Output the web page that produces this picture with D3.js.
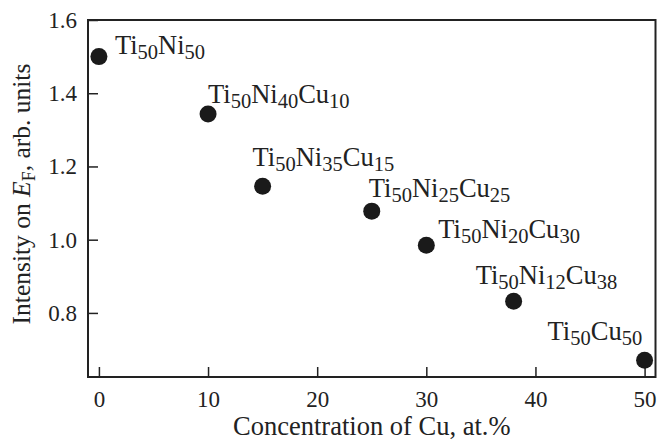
<!DOCTYPE html>
<html>
<head>
<meta charset="utf-8">
<script src="https://cdn.jsdelivr.net/npm/d3@7"></script>
<style>
  body { margin: 0; background: #fff; }
  svg text { font-family: "Liberation Serif", Tinos, serif; fill: #222; }
</style>
</head>
<body>
<svg id="chart" width="658" height="445"></svg>
<script>
// Data
const cu = [0, 10, 15, 25, 30, 38, 50];
const intensity = [1.50, 1.343, 1.146, 1.078, 0.985, 0.832, 0.671];
// label parts: [text, isSubscript]
const labels = [
  [["Ti", 0], ["50", 1], ["Ni", 0], ["50", 1]],
  [["Ti", 0], ["50", 1], ["Ni", 0], ["40", 1], ["Cu", 0], ["10", 1]],
  [["Ti", 0], ["50", 1], ["Ni", 0], ["35", 1], ["Cu", 0], ["15", 1]],
  [["Ti", 0], ["50", 1], ["Ni", 0], ["25", 1], ["Cu", 0], ["25", 1]],
  [["Ti", 0], ["50", 1], ["Ni", 0], ["20", 1], ["Cu", 0], ["30", 1]],
  [["Ti", 0], ["50", 1], ["Ni", 0], ["12", 1], ["Cu", 0], ["38", 1]],
  [["Ti", 0], ["50", 1], ["Cu", 0], ["50", 1]]
];
const xTicks = [0, 10, 20, 30, 40, 50];
const yTicks = [0.8, 1.0, 1.2, 1.4, 1.6];

// label offsets from the point (px)
const labelOffsets = [[16, -3], [0, -11], [-10, -20], [-3, -14], [12, -7], [-38, -17], [-97, -20]];

const width = 658, height = 445;
const margin = { top: 20, right: 2.5, bottom: 68, left: 88 };
const serif = "'Liberation Serif', Tinos, serif";

const svg = d3.select("#chart");

const x = d3.scaleLinear()
    .domain([-1, 51])
    .range([margin.left, width - margin.right]);

const y = d3.scaleLinear()
    .domain([0.625, 1.6])
    .range([height - margin.bottom, margin.top]);

// frame
svg.append("rect")
    .attr("x", margin.left)
    .attr("y", margin.top)
    .attr("width", width - margin.right - margin.left)
    .attr("height", height - margin.bottom - margin.top)
    .attr("fill", "none")
    .attr("stroke", "#222")
    .attr("stroke-width", 2);

// inward ticks
const xAxis = svg.append("g")
    .attr("transform", `translate(0,${height - margin.bottom})`)
    .call(d3.axisBottom(x).tickValues(xTicks).tickSizeInner(-10).tickSizeOuter(0).tickPadding(14));
const yAxis = svg.append("g")
    .attr("transform", `translate(${margin.left},0)`)
    .call(d3.axisLeft(y).tickValues(yTicks).tickFormat(d3.format(".1f")).tickSizeInner(-10).tickSizeOuter(0).tickPadding(11));

[xAxis, yAxis].forEach(g => {
  g.attr("font-family", serif);
  g.select(".domain").remove();
  g.selectAll(".tick line").attr("stroke", "#222").attr("stroke-width", 1.5);
  g.selectAll(".tick text")
    .style("font-family", serif)
    .style("font-size", "23px")
    .attr("fill", "#222");
});

// points
svg.append("g").selectAll("circle")
  .data(cu)
  .join("circle")
    .attr("cx", d => x(d))
    .attr("cy", (d, i) => y(intensity[i]))
    .attr("r", 8.5)
    .attr("fill", "#1a1a1a");

// labels
const lab = svg.append("g").selectAll("text")
  .data(labels)
  .join("text")
    .attr("x", (d, i) => x(cu[i]) + labelOffsets[i][0])
    .attr("y", (d, i) => y(intensity[i]) + labelOffsets[i][1])
    .style("font-family", serif)
    .style("font-size", "26.5px");

lab.each(function(parts) {
  const t = d3.select(this);
  let prevSub = false;
  parts.forEach(([s, sub]) => {
    const ts = t.append("tspan").text(s);
    if (sub) {
      ts.style("font-size", "20.5px").attr("dy", prevSub ? 0 : 5);
    } else {
      ts.attr("dy", prevSub ? -5 : 0);
    }
    prevSub = !!sub;
  });
});

// axis titles
svg.append("text")
    .attr("x", (margin.left + width - margin.right) / 2)
    .attr("y", 435)
    .attr("text-anchor", "middle")
    .style("font-family", serif)
    .style("font-size", "26.5px")
    .text("Concentration of Cu, at.%");

const yt = svg.append("text")
    .attr("transform", `translate(30,194) rotate(-90)`)
    .attr("text-anchor", "middle")
    .style("font-family", serif)
    .style("font-size", "25.5px");
yt.append("tspan").text("Intensity on ");
yt.append("tspan").style("font-style", "italic").text("E");
yt.append("tspan").style("font-size", "18px").attr("dy", 5).text("F");
yt.append("tspan").attr("dy", -5).text(", arb. units");
</script>
</body>
</html>
